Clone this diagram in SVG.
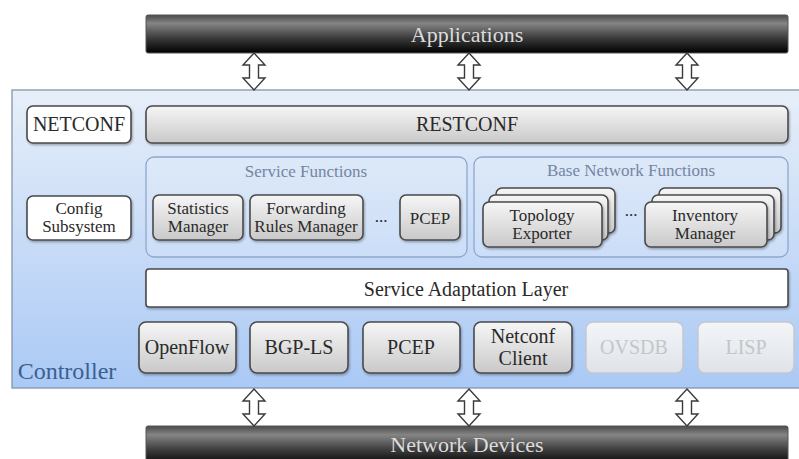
<svg xmlns="http://www.w3.org/2000/svg" width="799" height="459" viewBox="0 0 799 459">
  <defs>
    <linearGradient id="barFill" x1="0" y1="0" x2="0" y2="1">
      <stop offset="0" stop-color="#4a4a4a"/>
      <stop offset="0.22" stop-color="#858585"/>
      <stop offset="0.6" stop-color="#3c3c3c"/>
      <stop offset="1" stop-color="#000000"/>
    </linearGradient>
    <linearGradient id="panelFill" x1="0" y1="0" x2="0" y2="1">
      <stop offset="0" stop-color="#e7eff9"/>
      <stop offset="1" stop-color="#aac9f5"/>
    </linearGradient>
    <linearGradient id="grayFill" x1="0" y1="0" x2="0" y2="1">
      <stop offset="0" stop-color="#f6f6f6"/>
      <stop offset="1" stop-color="#c9c9c9"/>
    </linearGradient>
    <linearGradient id="fadedFill" x1="0" y1="0" x2="0" y2="1">
      <stop offset="0" stop-color="#f3f5f8"/>
      <stop offset="1" stop-color="#dfe3e9"/>
    </linearGradient>
    <filter id="shadow" x="-10%" y="-20%" width="125%" height="150%">
      <feDropShadow dx="1" dy="1.5" stdDeviation="1" flood-color="#000" flood-opacity="0.3"/>
    </filter>
    <!-- hollow double-headed arrow, 37 px tall, origin at the top tip -->
    <path id="arrow" d="M0,0 L11,12 L4.5,12 L4.5,25 L11,25 L0,37 L-11,25 L-4.5,25 L-4.5,12 L-11,12 Z"/>
  </defs>
  <style>
    text { font-family: "Liberation Serif", "Times New Roman", serif; text-anchor: middle; }
    .bar { fill: url(#barFill); stroke: #555; stroke-width: 1; }
    .barText { fill: #dcdcdc; font-size: 22px; }
    .box { stroke: #4a4a4a; stroke-width: 1.6; filter: url(#shadow); }
    .white { fill: #ffffff; }
    .gray { fill: url(#grayFill); }
    .faded { fill: url(#fadedFill); stroke: #c3c7cc; stroke-width: 1.4; }
    .group { fill: #ffffff; fill-opacity: 0.12; stroke: #8ea8cd; stroke-width: 1.3; }
    .groupText { fill: #7485a3; font-size: 17px; }
    .label { fill: #2a2a2a; font-size: 17px; }
    .big { fill: #2a2a2a; font-size: 20px; }
    .fadedText { fill: #c4c6c9; font-size: 20px; }
    .conn use { fill: #ffffff; stroke: #3a3a3a; stroke-width: 1.4; stroke-linejoin: miter; }
  </style>

  <rect width="799" height="459" fill="#ffffff"/>

  <!-- controller panel -->
  <g id="controller">
    <rect x="12" y="90" width="790" height="298" fill="url(#panelFill)" stroke="#8395ad" stroke-width="1.3"/>
    <text x="67" y="379" font-size="24" fill="#3b5f91">Controller</text>
  </g>

  <!-- top and bottom bars -->
  <g id="applications">
    <rect class="bar" x="146" y="15" width="642" height="38" rx="2"/>
    <text class="barText" x="467" y="42">Applications</text>
  </g>
  <g id="network-devices">
    <rect class="bar" x="146" y="426" width="642" height="40" rx="2"/>
    <text class="barText" x="467" y="452">Network Devices</text>
  </g>

  <!-- northbound -->
  <g id="netconf">
    <rect class="box white" x="27" y="106" width="104" height="37" rx="6"/>
    <text class="big" x="79" y="131" font-size="19">NETCONF</text>
  </g>
  <g id="restconf">
    <rect class="box gray" x="146" y="106" width="642" height="37" rx="6"/>
    <text class="big" x="467" y="131">RESTCONF</text>
  </g>

  <g id="config-subsystem">
    <rect class="box white" x="27" y="196" width="104" height="44" rx="6"/>
    <text class="label" x="79" y="214">Config</text>
    <text class="label" x="79" y="232">Subsystem</text>
  </g>

  <!-- service functions -->
  <g id="service-functions">
    <rect class="group" x="146" y="157" width="321" height="100" rx="8"/>
    <text class="groupText" x="306" y="177">Service Functions</text>
  </g>
  <g id="statistics-manager">
    <rect class="box gray" x="153" y="195" width="90" height="45" rx="6"/>
    <text class="label" x="198" y="214">Statistics</text>
    <text class="label" x="198" y="232">Manager</text>
  </g>
  <g id="forwarding-rules-manager">
    <rect class="box gray" x="250" y="195" width="113" height="45" rx="6"/>
    <text class="label" x="306" y="214">Forwarding</text>
    <text class="label" x="306" y="232">Rules Manager</text>
  </g>
  <text class="label" x="381" y="222">...</text>
  <g id="pcep-service">
    <rect class="box gray" x="400" y="195" width="60" height="45" rx="6"/>
    <text class="label" x="430" y="224">PCEP</text>
  </g>

  <!-- base network functions -->
  <g id="base-network-functions">
    <rect class="group" x="474" y="157" width="314" height="100" rx="8"/>
    <text class="groupText" x="631" y="176">Base Network Functions</text>
  </g>
  <g id="topology-exporter">
    <rect class="box gray" x="496" y="188" width="119" height="45" rx="6"/>
    <rect class="box gray" x="489" y="195" width="119" height="45" rx="6"/>
    <rect class="box gray" x="483" y="202" width="119" height="45" rx="6"/>
    <text class="label" x="542" y="221">Topology</text>
    <text class="label" x="542" y="239">Exporter</text>
  </g>
  <text class="label" x="631" y="216">...</text>
  <g id="inventory-manager">
    <rect class="box gray" x="659" y="188" width="122" height="45" rx="6"/>
    <rect class="box gray" x="652" y="195" width="122" height="45" rx="6"/>
    <rect class="box gray" x="645" y="202" width="122" height="45" rx="6"/>
    <text class="label" x="705" y="221">Inventory</text>
    <text class="label" x="705" y="239">Manager</text>
  </g>

  <g id="service-adaptation-layer">
    <rect class="box white" x="146" y="269" width="642" height="38" rx="3"/>
    <text class="big" x="466" y="296" font-size="22">Service Adaptation Layer</text>
  </g>

  <!-- southbound plugins -->
  <g id="openflow">
    <rect class="box gray" x="139" y="322" width="97" height="51" rx="7"/>
    <text class="big" x="187" y="354">OpenFlow</text>
  </g>
  <g id="bgp-ls">
    <rect class="box gray" x="250" y="322" width="98" height="51" rx="7"/>
    <text class="big" x="299" y="354">BGP-LS</text>
  </g>
  <g id="pcep">
    <rect class="box gray" x="363" y="322" width="97" height="51" rx="7"/>
    <text class="big" x="411" y="354">PCEP</text>
  </g>
  <g id="netconf-client">
    <rect class="box gray" x="474" y="322" width="98" height="51" rx="7"/>
    <text class="big" x="523" y="343" font-size="19">Netconf</text>
    <text class="big" x="523" y="365" font-size="19">Client</text>
  </g>
  <g id="ovsdb">
    <rect class="faded" x="586" y="322" width="97" height="51" rx="7"/>
    <text class="fadedText" x="634" y="354">OVSDB</text>
  </g>
  <g id="lisp">
    <rect class="faded" x="698" y="322" width="96" height="51" rx="7"/>
    <text class="fadedText" x="746" y="354">LISP</text>
  </g>

  <!-- connectors -->
  <g id="connectors" class="conn">
    <use href="#arrow" x="254" y="53"/>
    <use href="#arrow" x="469" y="53"/>
    <use href="#arrow" x="687" y="53"/>
    <use href="#arrow" x="254" y="389"/>
    <use href="#arrow" x="469" y="389"/>
    <use href="#arrow" x="687" y="389"/>
  </g>
</svg>
